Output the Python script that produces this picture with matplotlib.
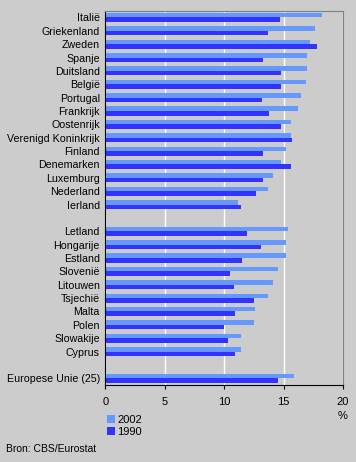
import numpy as np
import matplotlib.pyplot as plt

plt.rcParams['font.family'] = ['Liberation Sans', 'DejaVu Sans']

landen_eu15 = ["Italië", "Griekenland", "Zweden", "Spanje", "Duitsland", "België",
               "Portugal", "Frankrijk", "Oostenrijk", "Verenigd Koninkrijk", "Finland",
               "Denemarken", "Luxemburg", "Nederland", "Ierland"]
w2002_eu15 = [18.2, 17.6, 17.2, 17.0, 17.0, 16.9, 16.5, 16.2, 15.6, 15.6, 15.2, 14.8, 14.1, 13.7, 11.2]
w1990_eu15 = [14.7, 13.7, 17.8, 13.3, 14.8, 14.8, 13.2, 13.8, 14.8, 15.7, 13.3, 15.6, 13.3, 12.7, 11.4]

landen_nieuw = ["Letland", "Hongarije", "Estland", "Slovenië", "Litouwen", "Tsjechië",
                "Malta", "Polen", "Slowakije", "Cyprus"]
w2002_nieuw = [15.4, 15.2, 15.2, 14.5, 14.1, 13.7, 12.6, 12.5, 11.4, 11.4]
w1990_nieuw = [11.9, 13.1, 11.5, 10.5, 10.8, 12.5, 10.9, 10.0, 10.3, 10.9]

landen_eu = ["Europese Unie (25)"]
w2002_eu = [15.9]
w1990_eu = [14.5]

# opbouw met lege regels tussen de groepen
labels = landen_eu15 + [""] + landen_nieuw + [""] + landen_eu
v2002 = w2002_eu15 + [np.nan] + w2002_nieuw + [np.nan] + w2002_eu
v1990 = w1990_eu15 + [np.nan] + w1990_nieuw + [np.nan] + w1990_eu
y = np.arange(len(labels))

bg = "#cccccc"
fig = plt.figure(figsize=(3.56, 4.62), dpi=100, facecolor=bg)
ax = fig.add_axes([0.2963, 0.1667, 0.6672, 0.8101], facecolor=bg)

h = 0.34
ax.barh(y - h / 2, v2002, height=h, color="#6699ff", label="2002")
ax.barh(y + h / 2, v1990, height=h, color="#3333ff", label="1990")

ax.set_xlim(0, 20)
ax.set_ylim(len(labels) - 0.5, -0.5)
ax.set_yticks(y)
ax.set_yticklabels(labels, fontsize=7.7)
ax.tick_params(axis="y", length=0, pad=4)
ax.set_xticks([0, 5, 10, 15, 20])
ax.tick_params(axis="x", labelsize=8, length=3, pad=6)

ax.grid(axis="x", color="white", linewidth=1)
ax.set_axisbelow(True)
for s in ["top", "right"]:
    ax.spines[s].set_color("#808080")
for s in ["left", "bottom"]:
    ax.spines[s].set_color("black")

fig.text(0.9635, 0.0996, "%", fontsize=8, ha="center", va="center")
ax.legend(loc="upper left", bbox_to_anchor=(-0.012, -0.068), frameon=False, fontsize=8,
          handlelength=0.7, handleheight=0.7, handletextpad=0.2, labelspacing=0.15,
          borderaxespad=0)
fig.text(0.017, 0.022, "Bron: CBS/Eurostat", fontsize=7.5)

plt.savefig("out.png", dpi=100, facecolor=bg)
